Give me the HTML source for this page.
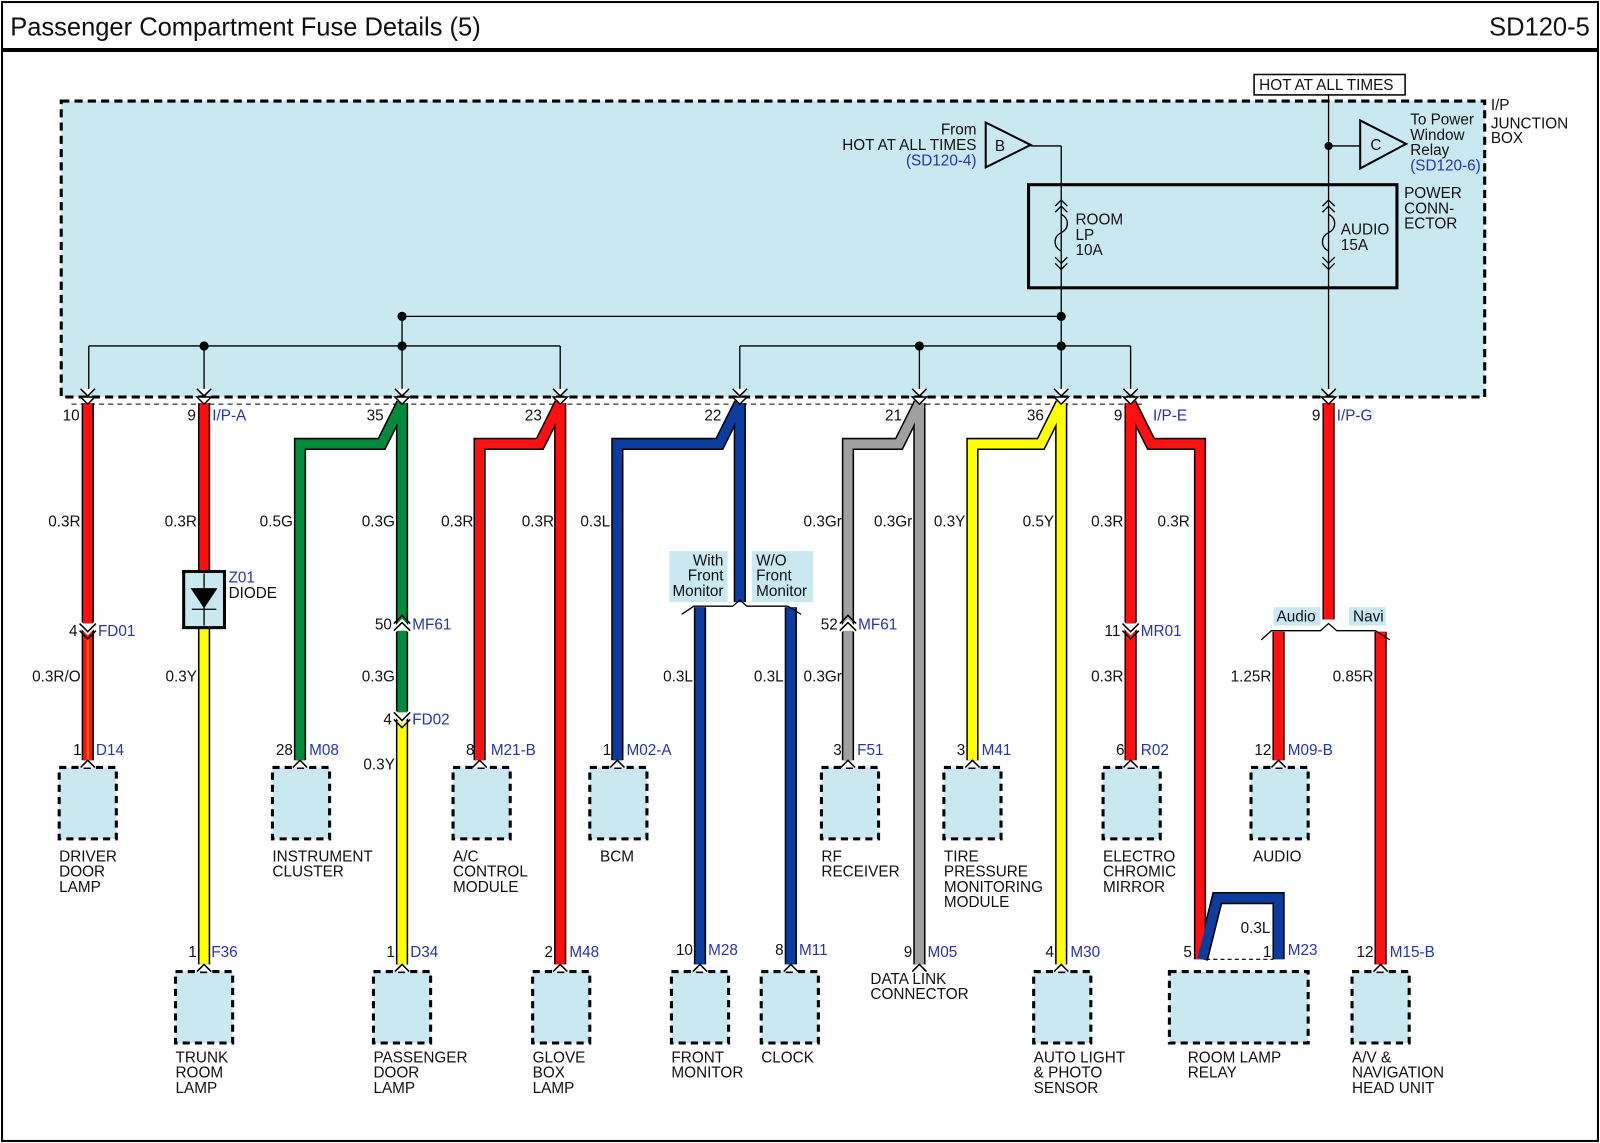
<!DOCTYPE html>
<html><head><meta charset="utf-8"><style>
html,body{margin:0;padding:0;background:#fff}
svg{display:block}
text{font-family:"Liberation Sans",Arial,sans-serif;font-size:15px;fill:#111}
.b{fill:#2233bb}
.r{text-anchor:end}
.o{fill:none;stroke:#000;stroke-width:12;stroke-linejoin:miter}
.c{fill:none;stroke-width:9;stroke-linejoin:miter}
.t{fill:none;stroke:#000;stroke-width:1.3}
.box{fill:#c9e8f0;stroke:#000;stroke-width:3;stroke-dasharray:7 5}
.ch{fill:#fff;stroke:#000;stroke-width:1.5}
</style></head><body>
<svg width="1600" height="1143" viewBox="0 0 1568 1120" preserveAspectRatio="none" xmlns="http://www.w3.org/2000/svg">
<rect x="0" y="0" width="1568" height="1120" fill="#fff"/>
<rect x="2" y="2" width="1564" height="1116" fill="none" stroke="#000" stroke-width="2"/>
<line x1="2" y1="49" x2="1566" y2="49" stroke="#000" stroke-width="4"/>
<text x="10" y="35" style="font-size:25px">Passenger Compartment Fuse Details (5)</text>
<text x="1558" y="35" class="r" style="font-size:25px">SD120-5</text>

<rect x="60" y="99" width="1395" height="290" fill="#c9e8f0" stroke="#000" stroke-width="3" stroke-dasharray="8 5"/>
<line x1="70" y1="396" x2="1120" y2="396" stroke="#000" stroke-width="1" stroke-dasharray="5 4"/>
<text x="1461" y="108">I/P</text><text x="1461" y="126">JUNCTION</text><text x="1461" y="140">BOX</text>
<rect x="1229" y="73" width="148" height="20" fill="#fff" stroke="#000" stroke-width="1.5"/>
<text x="1234" y="88" style="font-size:15px">HOT AT ALL TIMES</text>
<path class="t" d="M1302 93 V388 M1302 143 H1333 M1040 143 H1010 M1040 143 V388 M394 310 H1040 M87 339 H549 M87 339 V388 M200 339 V388 M394 310 V388 M549 339 V388 M725 339 H1108 M725 339 V388 M901 339 V388 M1108 339 V388"/>
<g fill="#000"><circle cx="1302" cy="143" r="4"/><circle cx="1040" cy="310" r="4.5"/><circle cx="1040" cy="339" r="4.5"/><circle cx="394" cy="310" r="4.5"/><circle cx="394" cy="339" r="4.5"/><circle cx="200" cy="339" r="4.5"/><circle cx="901" cy="339" r="4.5"/></g>
<polygon points="1333,118 1333,165 1378,141" fill="none" stroke="#000" stroke-width="2"/><text x="1343" y="147">C</text>
<polygon points="966,120 966,164 1010,142" fill="none" stroke="#000" stroke-width="2"/><text x="975" y="148">B</text>
<text x="1382" y="122">To Power</text><text x="1382" y="137">Window</text><text x="1382" y="152">Relay</text><text x="1382" y="167" class="b">(SD120-6)</text>
<text x="957" y="132" class="r">From</text><text x="957" y="147" class="r">HOT AT ALL TIMES</text><text x="957" y="162" class="r b">(SD120-4)</text>
<rect x="1008" y="181" width="361" height="101" fill="none" stroke="#000" stroke-width="3"/>
<text x="1376" y="194">POWER</text><text x="1376" y="209">CONN-</text><text x="1376" y="224">ECTOR</text>
<g class="t" style="fill:none">
<path d="M1034 202 l6-6 l6 6 M1034 208 l6-6 l6 6 M1040 210 c8 4 8 14 0 18 c-8 4 -8 14 0 18 M1034 252 l6 6 l6-6 M1034 258 l6 6 l6-6"/>
<path d="M1296 202 l6-6 l6 6 M1296 208 l6-6 l6 6 M1302 210 c8 4 8 14 0 18 c-8 4 -8 14 0 18 M1296 252 l6 6 l6-6 M1296 258 l6 6 l6-6"/>
</g>
<text x="1054" y="220">ROOM</text><text x="1054" y="235">LP</text><text x="1054" y="250">10A</text>
<text x="1314" y="230">AUDIO</text><text x="1314" y="245">15A</text>

<g class="o">
<path d="M86 395 V745"/><path d="M200 395 V560 M200 615 V945"/>
<path d="M394 395 L374 435 H294 V745"/><path d="M394 395 V945"/>
<path d="M549 395 L529 435 H470 V745"/><path d="M549 395 V945"/>
<path d="M725 395 L705 435 H605 V745"/><path d="M725 395 V590 M686 595 V945 M775 595 V945"/>
<path d="M901 395 L881 435 H831 V745"/><path d="M901 395 V945"/>
<path d="M1040 395 L1020 435 H953 V745"/><path d="M1040 395 V945"/>
<path d="M1108 395 V745"/><path d="M1108 395 L1128 435 H1176 V940"/>
<path d="M1178 940 L1193 880 H1253 V940"/>
<path d="M1302 395 V607 M1253 619 V745 M1353 619 V945"/>
</g>
<g class="c">
<path d="M86 395 V745" stroke="#ff1010"/><path d="M86 625 V745" stroke="#ff7000" stroke-width="2"/>
<path d="M200 395 V560" stroke="#ff1010"/><path d="M200 615 V945" stroke="#ffff00"/>
<path d="M394 395 L374 435 H294 V745" stroke="#008a3c"/><path d="M394 395 V700" stroke="#008a3c"/><path d="M394 706 V945" stroke="#ffff00"/>
<path d="M549 395 L529 435 H470 V745" stroke="#ff1010"/><path d="M549 395 V945" stroke="#ff1010"/>
<path d="M725 395 L705 435 H605 V745" stroke="#0c3d9e"/><path d="M725 395 V590 M686 595 V945 M775 595 V945" stroke="#0c3d9e"/>
<path d="M901 395 L881 435 H831 V745" stroke="#a0a0a0"/><path d="M901 395 V945" stroke="#a0a0a0"/>
<path d="M1040 395 L1020 435 H953 V745" stroke="#ffff00"/><path d="M1040 395 V945" stroke="#ffff00"/>
<path d="M1108 395 V745" stroke="#ff1010"/><path d="M1108 395 L1128 435 H1176 V940" stroke="#ff1010"/>
<path d="M1178 940 L1193 880 H1253 V940" stroke="#0c3d9e"/>
<path d="M1302 395 V607 M1253 619 V745 M1353 619 V945" stroke="#ff1010"/>
</g>

<g class="ch">
<path d="M79 381 l7 7 l7-7"/><path d="M79 389 l7 7 l7-7 z"/>
<path d="M193 381 l7 7 l7-7"/><path d="M193 389 l7 7 l7-7 z"/>
<path d="M387 381 l7 7 l7-7"/><path d="M387 389 l7 7 l7-7 z"/>
<path d="M542 381 l7 7 l7-7"/><path d="M542 389 l7 7 l7-7 z"/>
<path d="M718 381 l7 7 l7-7"/><path d="M718 389 l7 7 l7-7 z"/>
<path d="M894 381 l7 7 l7-7"/><path d="M894 389 l7 7 l7-7 z"/>
<path d="M1033 381 l7 7 l7-7"/><path d="M1033 389 l7 7 l7-7 z"/>
<path d="M1101 381 l7 7 l7-7"/><path d="M1101 389 l7 7 l7-7 z"/>
<path d="M1295 381 l7 7 l7-7"/><path d="M1295 389 l7 7 l7-7 z"/>
<path d="M78 611 l8 8 l8-8" stroke="#fff" stroke-width="5"/><path d="M78 611 l8 8 l8-8 M78 618 l8 8 l8-8" fill="none"/>
<path d="M386 618 l8-8 l8 8" stroke="#fff" stroke-width="5"/><path d="M386 611 l8-8 l8 8 M386 618 l8-8 l8 8" fill="none"/>
<path d="M386 698 l8 8 l8-8" stroke="#fff" stroke-width="5"/><path d="M386 698 l8 8 l8-8 M386 705 l8 8 l8-8" fill="none"/>
<path d="M823 618 l8-8 l8 8" stroke="#fff" stroke-width="5"/><path d="M823 611 l8-8 l8 8 M823 618 l8-8 l8 8" fill="none"/>
<path d="M1100 611 l8 8 l8-8" stroke="#fff" stroke-width="5"/><path d="M1100 611 l8 8 l8-8 M1100 618 l8 8 l8-8" fill="none"/>
</g>

<rect x="180" y="560" width="40" height="55" fill="#c9e8f0" stroke="#000" stroke-width="3"/>
<path d="M200 562 V613 M188 577 H212 L200 595 Z M188 597 H212" fill="#000" stroke="#000" stroke-width="1.3"/>
<text x="224" y="571" class="b">Z01</text><text x="224" y="586">DIODE</text>

<rect x="656" y="540" width="57" height="50" fill="#c9e8f0"/><rect x="737" y="540" width="60" height="50" fill="#c9e8f0"/>
<text x="709" y="554" class="r">With</text><text x="709" y="569" class="r">Front</text><text x="709" y="584" class="r">Monitor</text>
<text x="741" y="554">W/O</text><text x="741" y="569">Front</text><text x="741" y="584">Monitor</text>
<path class="t" d="M668 602 L680 594 H718 L725 588 L732 594 H772 L785 602"/>
<rect x="1248" y="595" width="46" height="18" fill="#c9e8f0"/><rect x="1322" y="595" width="36" height="18" fill="#c9e8f0"/>
<text x="1251" y="609">Audio</text><text x="1326" y="609">Navi</text>
<path class="t" d="M1236 627 L1246 618 H1294 L1302 611 L1310 618 H1348 L1362 627"/>

<g class="box">
<rect x="58" y="752" width="56" height="70"/><rect x="267" y="752" width="56" height="70"/>
<rect x="444" y="752" width="56" height="70"/><rect x="578" y="752" width="56" height="70"/>
<rect x="805" y="752" width="56" height="70"/><rect x="925" y="752" width="56" height="70"/>
<rect x="1081" y="752" width="56" height="70"/><rect x="1226" y="752" width="56" height="70"/>
<rect x="172" y="952" width="56" height="70"/><rect x="366" y="952" width="56" height="70"/>
<rect x="522" y="952" width="56" height="70"/><rect x="658" y="952" width="56" height="70"/>
<rect x="746" y="952" width="56" height="70"/><rect x="1013" y="952" width="56" height="70"/>
<rect x="1146" y="952" width="136" height="70"/><rect x="1325" y="952" width="56" height="70"/>
</g>
<line x1="1182" y1="940" x2="1248" y2="940" stroke="#000" stroke-width="1" stroke-dasharray="4 3"/>
<g class="ch">
<path d="M79 752 l7-7 l7 7"/><path d="M287 752 l7-7 l7 7"/><path d="M463 752 l7-7 l7 7"/><path d="M598 752 l7-7 l7 7"/>
<path d="M824 752 l7-7 l7 7"/><path d="M946 752 l7-7 l7 7"/><path d="M1101 752 l7-7 l7 7"/><path d="M1246 752 l7-7 l7 7"/>
<path d="M193 952 l7-7 l7 7"/><path d="M387 952 l7-7 l7 7"/><path d="M542 952 l7-7 l7 7"/><path d="M679 952 l7-7 l7 7"/>
<path d="M768 952 l7-7 l7 7"/><path d="M894 952 l7-7 l7 7"/><path d="M1033 952 l7-7 l7 7"/><path d="M1346 952 l7-7 l7 7"/>
</g>

<text x="78" y="412" class="r">10</text>
<text x="192" y="412" class="r">9</text><text x="208" y="412" class="b">I/P-A</text>
<text x="376" y="412" class="r">35</text><text x="531" y="412" class="r">23</text>
<text x="707" y="412" class="r">22</text><text x="884" y="412" class="r">21</text>
<text x="1023" y="412" class="r">36</text>
<text x="1100" y="412" class="r">9</text><text x="1130" y="412" class="b">I/P-E</text>
<text x="1294" y="412" class="r">9</text><text x="1310" y="412" class="b">I/P-G</text>
<text x="79" y="516" class="r">0.3R</text><text x="193" y="516" class="r">0.3R</text><text x="287" y="516" class="r">0.5G</text>
<text x="387" y="516" class="r">0.3G</text><text x="464" y="516" class="r">0.3R</text><text x="543" y="516" class="r">0.3R</text>
<text x="598" y="516" class="r">0.3L</text><text x="825" y="516" class="r">0.3Gr</text><text x="894" y="516" class="r">0.3Gr</text>
<text x="946" y="516" class="r">0.3Y</text><text x="1033" y="516" class="r">0.5Y</text><text x="1101" y="516" class="r">0.3R</text>
<text x="1166" y="516" class="r">0.3R</text>
<text x="79" y="668" class="r">0.3R/O</text><text x="193" y="668" class="r">0.3Y</text><text x="387" y="668" class="r">0.3G</text>
<text x="679" y="668" class="r">0.3L</text><text x="768" y="668" class="r">0.3L</text><text x="825" y="668" class="r">0.3Gr</text>
<text x="1101" y="668" class="r">0.3R</text><text x="1246" y="668" class="r">1.25R</text><text x="1346" y="668" class="r">0.85R</text>
<text x="387" y="754" class="r">0.3Y</text><text x="1245" y="914" class="r">0.3L</text>
<text x="76" y="623" class="r">4</text><text x="96" y="623" class="b">FD01</text>
<text x="384" y="617" class="r">50</text><text x="404" y="617" class="b">MF61</text>
<text x="384" y="710" class="r">4</text><text x="404" y="710" class="b">FD02</text>
<text x="821" y="617" class="r">52</text><text x="841" y="617" class="b">MF61</text>
<text x="1098" y="623" class="r">11</text><text x="1118" y="623" class="b">MR01</text>
<text x="80" y="740" class="r">1</text><text x="94" y="740" class="b">D14</text>
<text x="287" y="740" class="r">28</text><text x="303" y="740" class="b">M08</text>
<text x="465" y="740" class="r">8</text><text x="481" y="740" class="b">M21-B</text>
<text x="599" y="740" class="r">1</text><text x="614" y="740" class="b">M02-A</text>
<text x="825" y="740" class="r">3</text><text x="840" y="740" class="b">F51</text>
<text x="946" y="740" class="r">3</text><text x="962" y="740" class="b">M41</text>
<text x="1102" y="740" class="r">6</text><text x="1118" y="740" class="b">R02</text>
<text x="1246" y="740" class="r">12</text><text x="1262" y="740" class="b">M09-B</text>
<text x="193" y="938" class="r">1</text><text x="207" y="938" class="b">F36</text>
<text x="387" y="938" class="r">1</text><text x="402" y="938" class="b">D34</text>
<text x="542" y="938" class="r">2</text><text x="558" y="938" class="b">M48</text>
<text x="679" y="936" class="r">10</text><text x="694" y="936" class="b">M28</text>
<text x="768" y="936" class="r">8</text><text x="783" y="936" class="b">M11</text>
<text x="894" y="938" class="r">9</text><text x="909" y="938" class="b">M05</text>
<text x="1033" y="938" class="r">4</text><text x="1049" y="938" class="b">M30</text>
<text x="1168" y="938" class="r">5</text>
<text x="1246" y="938" class="r">1</text><text x="1262" y="936" class="b">M23</text>
<text x="1346" y="938" class="r">12</text><text x="1362" y="938" class="b">M15-B</text>
<text x="58" y="844">DRIVER</text><text x="58" y="859">DOOR</text><text x="58" y="874">LAMP</text>
<text x="267" y="844">INSTRUMENT</text><text x="267" y="859">CLUSTER</text>
<text x="444" y="844">A/C</text><text x="444" y="859">CONTROL</text><text x="444" y="874">MODULE</text>
<text x="588" y="844">BCM</text>
<text x="805" y="844">RF</text><text x="805" y="859">RECEIVER</text>
<text x="925" y="844">TIRE</text><text x="925" y="859">PRESSURE</text><text x="925" y="874">MONITORING</text><text x="925" y="889">MODULE</text>
<text x="1081" y="844">ELECTRO</text><text x="1081" y="859">CHROMIC</text><text x="1081" y="874">MIRROR</text>
<text x="1228" y="844">AUDIO</text>
<text x="853" y="964">DATA LINK</text><text x="853" y="979">CONNECTOR</text>
<text x="172" y="1041">TRUNK</text><text x="172" y="1056">ROOM</text><text x="172" y="1071">LAMP</text>
<text x="366" y="1041">PASSENGER</text><text x="366" y="1056">DOOR</text><text x="366" y="1071">LAMP</text>
<text x="522" y="1041">GLOVE</text><text x="522" y="1056">BOX</text><text x="522" y="1071">LAMP</text>
<text x="658" y="1041">FRONT</text><text x="658" y="1056">MONITOR</text>
<text x="746" y="1041">CLOCK</text>
<text x="1013" y="1041">AUTO LIGHT</text><text x="1013" y="1056">&amp; PHOTO</text><text x="1013" y="1071">SENSOR</text>
<text x="1164" y="1041">ROOM LAMP</text><text x="1164" y="1056">RELAY</text>
<text x="1325" y="1041">A/V &amp;</text><text x="1325" y="1056">NAVIGATION</text><text x="1325" y="1071">HEAD UNIT</text>
</svg>
</body></html>
